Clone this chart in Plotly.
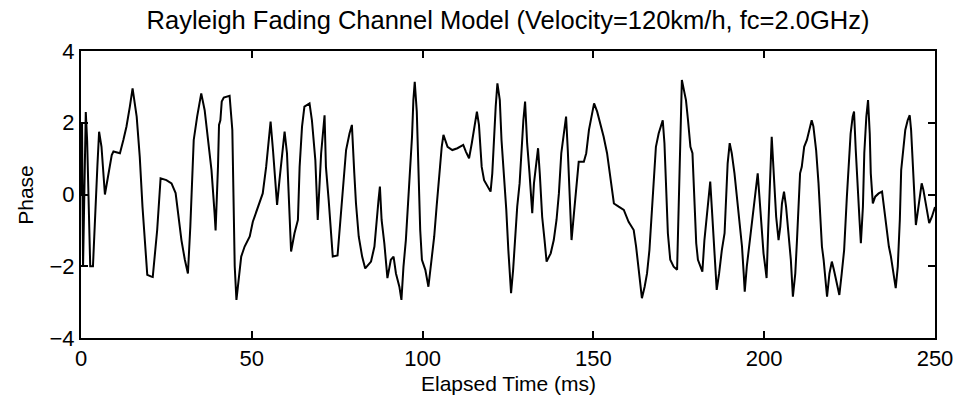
import plotly.graph_objects as go

# Elapsed time (ms) and phase values
time_ms = [
    0, 0.3, 0.6, 1.0, 1.4, 1.8, 2.3, 2.7, 3.5, 4.2, 4.8, 5.3, 6.0, 7.0, 8.0, 9.0, 9.5, 11.4, 12.4, 13.3,
    14.3, 15.1, 16.3, 17.2, 18.0, 19.0, 19.4, 20.6, 21.0, 22.3, 23.3, 25.0, 26.5, 27.7, 28.4, 29.4, 30.4, 31.3, 32.0, 33.0,
    34.0, 35.2, 36.2, 37.2, 38.2, 39.1, 39.4, 40.1, 40.4, 40.8, 41.2, 41.8, 43.5, 44.3, 44.7, 45.0, 45.5, 46.2, 46.9, 47.9,
    49.4, 50.3, 51.8, 53.2, 54.2, 55.0, 55.5, 56.2, 57.0, 57.4, 58.1, 58.9, 59.6, 60.3, 60.8, 61.3, 61.5, 62.5, 63.5, 64.0,
    64.7, 65.4, 66.9, 67.6, 68.6, 69.3, 70.3, 71.3, 71.7, 72.5, 73.2, 73.7, 75.1, 75.8, 76.6, 77.6, 78.6, 79.3, 80.0, 80.5,
    81.3, 82.3, 83.2, 84.9, 85.9, 86.5, 87.1, 87.5, 88.0, 88.8, 89.7, 90.7, 91.5, 92.2, 93.2, 93.8, 94.4, 95.1, 95.6, 96.1,
    96.9, 97.3, 97.7, 98.3, 98.7, 99.3, 99.8, 100.8, 101.7, 102.2, 102.7, 103.4, 104.1, 104.7, 105.1, 105.6, 106.1, 107.3, 108.7, 110.2,
    111.9, 112.7, 113.6, 114.4, 115.4, 115.9, 116.5, 117.3, 118.0, 119.2, 119.9, 120.4, 120.9, 121.4, 121.9, 122.6, 123.1, 123.8, 124.5, 125.1,
    125.5, 125.9, 126.5, 127.0, 127.7, 128.4, 128.9, 129.5, 130.0, 130.6, 131.3, 132.1, 132.6, 133.4, 133.8, 134.3, 135.0, 135.7, 136.3, 137.5,
    138.4, 139.2, 139.9, 140.6, 141.3, 142.0, 142.5, 143.1, 143.6, 144.4, 145.0, 145.7, 147.2, 147.9, 148.7, 149.4, 150.2, 151.1, 152.0, 153.0,
    154.0, 155.0, 156.0, 157.4, 158.9, 160.3, 161.8, 162.5, 163.1, 163.8, 164.2, 165.0, 165.7, 166.4, 167.2, 167.6, 168.3, 169.1, 169.9, 170.3,
    170.8, 171.3, 171.8, 172.5, 173.5, 174.5, 174.7, 175.1, 175.5, 175.9, 176.5, 177.1, 177.7, 178.4, 179.0, 179.5, 180.1, 180.6, 181.3, 181.9,
    182.5, 183.2, 183.7, 184.2, 184.7, 185.2, 185.6, 186.1, 186.8, 187.6, 188.4, 188.9, 189.3, 189.9, 190.5, 191.3, 192.0, 192.7, 193.5, 194.0,
    194.3, 194.9, 195.6, 196.4, 197.1, 197.6, 198.1, 198.6, 199.3, 199.8, 200.3, 200.7, 201.2, 201.7, 202.2, 202.9, 203.5, 204.2, 204.7, 205.2,
    205.8, 206.4, 207.1, 207.8, 208.4, 209.1, 209.6, 210.1, 210.5, 211.0, 211.7, 212.5, 213.2, 213.9, 214.4, 215.2, 215.9, 216.4, 216.9, 217.4,
    217.9, 218.4, 219.1, 219.8, 220.4, 221.2, 222.0, 222.7, 223.4, 224.2, 224.7, 225.3, 225.9, 226.3, 226.8, 227.3, 227.9, 228.3, 228.9, 229.3,
    229.9, 230.4, 230.9, 231.2, 231.8, 232.5, 233.5, 234.5, 235.2, 235.8, 236.5, 237.1, 237.9, 238.5, 239.1, 239.7, 240.1, 240.6, 241.3, 242.0,
    242.6, 243.0, 243.5, 243.9, 244.4, 244.9, 245.5, 246.1, 246.6, 247.1, 247.6, 248.3, 249.1, 250.0,
]
phase = [
    0.0, 2.0, -2.0, 0.0, 2.3, 1.5, -0.5, -2.0, -2.0, -0.3, 0.8, 1.75, 1.33, 0.0, 0.5, 1.1, 1.2, 1.15, 1.52, 1.89,
    2.45, 2.96, 2.17, 1.05, -0.34, -1.73, -2.24, -2.29, -2.3, -0.99, 0.45, 0.40, 0.31, 0.04, -0.52, -1.27, -1.82, -2.2, -0.9, 1.52,
    2.17, 2.82, 2.35, 1.52, 0.68, -0.52, -1.0, 0.77, 1.94, 2.07, 2.59, 2.7, 2.75, 1.8, -0.15, -2.0, -2.94, -2.3, -1.73, -1.45,
    -1.17, -0.76, -0.38, 0.03, 0.77, 1.70, 2.03, 1.24, 0.31, -0.29, 0.40, 1.24, 1.75, 1.15, 0.03, -1.04, -1.59, -1.08, -0.71, 0.77,
    1.89, 2.45, 2.54, 2.07, 0.96, -0.71, 1.15, 2.21, 0.77, -0.15, -1.27, -1.73, -1.7, -0.9, -0.06, 1.24, 1.70, 1.94, 0.6, -0.25,
    -1.17, -1.73, -2.06, -1.87, -1.45, -0.9, -0.15, 0.22, -0.71, -1.36, -2.33, -1.82, -1.73, -2.2, -2.57, -2.94, -2.01, -1.27, -0.52, 0.5,
    1.61, 2.63, 3.14, 2.31, 0.68, -0.99, -1.82, -2.1, -2.57, -2.2, -1.73, -1.17, -0.34, 0.22, 0.77, 1.33, 1.66, 1.33, 1.24, 1.29,
    1.38, 1.19, 1.01, 1.43, 2.07, 2.31, 1.94, 0.77, 0.40, 0.17, 0.08, 0.59, 1.6, 2.45, 3.1, 2.63, 1.52, 0.59, -0.43, -1.55,
    -2.2, -2.75, -2.1, -1.27, -0.34, 0.31, 1.24, 2.07, 2.59, 1.43, 0.59, -0.52, 0.31, 0.87, 1.29, 0.59, -0.62, -1.27, -1.87, -1.64,
    -1.27, -0.71, 0.03, 1.15, 1.70, 2.17, 1.24, 0.03, -1.27, -0.43, 0.13, 0.91, 0.91, 1.15, 1.8, 2.17, 2.54, 2.31, 1.98, 1.61,
    1.15, 0.5, -0.25, -0.34, -0.43, -0.76, -0.99, -1.45, -2.01, -2.47, -2.89, -2.57, -2.2, -1.55, -0.34, 0.59, 1.33, 1.70, 1.94, 2.07,
    1.43, 0.03, -1.08, -1.82, -2.01, -2.1, -1.27, 0.40, 2.35, 3.19, 2.91, 2.63, 2.07, 1.33, 1.15, -0.06, -1.36, -1.82, -2.01, -2.15,
    -1.27, -0.62, 0.03, 0.36, -0.43, -1.27, -2.01, -2.66, -2.2, -1.55, -1.08, -0.15, 0.87, 1.43, 1.15, 0.59, -0.06, -0.8, -1.45, -2.2,
    -2.71, -2.01, -1.45, -0.8, -0.15, 0.31, 0.59, -0.06, -0.99, -1.64, -2.01, -2.33, -0.9, 0.31, 1.61, 0.4, -0.62, -1.27, -0.9, -0.25,
    0.08, -0.34, -1.08, -1.82, -2.85, -2.2, -1.27, -0.06, 0.59, 0.77, 1.33, 1.52, 1.8, 2.07, 1.9, 1.24, 0.31, -0.52, -1.45, -1.82,
    -2.38, -2.85, -2.2, -1.87, -2.1, -2.47, -2.8, -2.2, -1.55, -0.06, 0.87, 1.70, 2.17, 2.31, 1.24, 0.22, -0.71, -1.36, -0.34, 1.15,
    2.17, 2.63, 1.70, 0.59, -0.25, -0.06, 0.03, 0.08, -0.43, -0.99, -1.45, -1.73, -2.2, -2.61, -2.01, -0.71, 0.68, 1.24, 1.80, 2.07,
    2.21, 1.8, 0.77, -0.15, -0.85, -0.52, -0.06, 0.31, 0.13, -0.15, -0.43, -0.8, -0.62, -0.35,
]

x_ticks = [0, 50, 100, 150, 200, 250]
y_ticks = [-4, -2, 0, 2, 4]

title_text = "Rayleigh Fading Channel Model (Velocity=120km/h, fc=2.0GHz)"
x_label = "Elapsed Time (ms)"
y_label = "Phase"

FONT = "Liberation Sans, Arial, sans-serif"

fig = go.Figure(
    go.Scatter(x=time_ms, y=phase, mode="lines",
               line=dict(color="black", width=2), showlegend=False)
)

axis_common = dict(
    showline=True, mirror="ticks", linecolor="black", linewidth=2,
    ticks="inside", ticklen=7, tickwidth=1.5, tickcolor="black",
    showgrid=False, zeroline=False,
    tickfont=dict(family=FONT, size=22, color="black"),
)

fig.update_layout(
    width=965, height=412,
    margin=dict(l=81, r=26, t=51, b=74),
    paper_bgcolor="white", plot_bgcolor="white",
    title=dict(text=title_text, x=0.5, xref="paper", y=1 - 20 / 412, yanchor="middle",
               font=dict(family=FONT, size=25.5, color="black")),
    xaxis=dict(range=[0, 250], tickvals=x_ticks, **axis_common),
    yaxis=dict(range=[-4, 4], tickvals=y_ticks, **axis_common),
    annotations=[
        dict(text=x_label, xref="paper", yref="paper", x=0.5, y=-(383 - 338) / 287,
             showarrow=False, yanchor="middle", xanchor="center",
             font=dict(family=FONT, size=21, color="black")),
        dict(text=y_label, xref="paper", yref="paper", x=-(81 - 25) / 858, y=0.5,
             showarrow=False, textangle=-90, xanchor="center", yanchor="middle",
             font=dict(family=FONT, size=21, color="black")),
    ],
)

fig.write_html("out.html")
